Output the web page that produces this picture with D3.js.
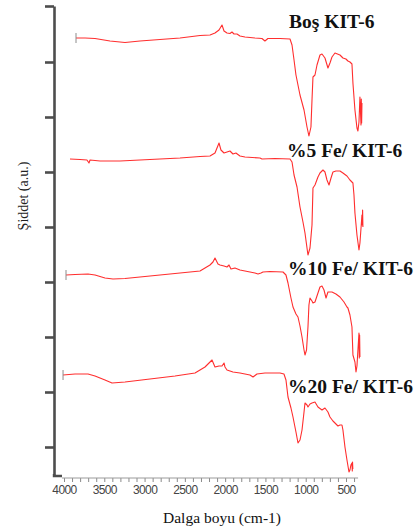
<!DOCTYPE html>
<html>
<head>
<meta charset="utf-8">
<script src="https://cdn.jsdelivr.net/npm/d3@7"></script>
<style>
  html, body { margin: 0; padding: 0; background: #fff; }
  svg { display: block; }
</style>
</head>
<body>
<svg id="chart" width="418" height="531"></svg>
<script>
// FTIR spectra of bare and Fe-loaded KIT-6: [wavenumber (cm-1), intensity (a.u.)]
const seriesNames = ["Boş KIT-6", "%5 Fe/ KIT-6", "%10 Fe/ KIT-6", "%20 Fe/ KIT-6"];

const bosKit6 = [
  [3851,437],[3739,437],[3615,436.5],[3429,434],[3243,432.5],[3057,434],[2809,435.5],[2560,437],
  [2312,439.5],[2188,440],[2126,442],[2076,445],[2039,450],[2014,444],[1977,442],[1940,441.5],
  [1915,443],[1890,441],[1853,441],[1816,439],[1754,438],[1630,437],[1543,436.5],[1506,434],
  [1469,436.5],[1319,436.5],[1195,436],[1170,430],[1145,415],[1121,400],[1071,380],[1021,365],
  [984,348],[960,339],[935,348],[922,375],[910,398],[885,400],[860,410],[823,420],[798,421],
  [761,417],[724,407],[699,412],[674,418],[637,422],[575,420],[538,417],[501,416],[476,414],
  [451,413],[426,411],[414,392],[389,365],[364,347],[352,344],[339,353],[327,378],[314,350],
  [310,376],[306,352],[302,372]
];

const fe5Kit6 = [
  [3926,316],[3801,315.5],[3715,315],[3690,312],[3677,315],[3553,314],[3305,314],[3057,315],
  [2809,316],[2560,317],[2312,318.5],[2188,319],[2126,322],[2076,332],[2052,325],[2014,322],
  [1977,323],[1940,324],[1903,321],[1866,322],[1816,319],[1754,318],[1568,317],[1543,316],
  [1381,316.5],[1195,316],[1170,313],[1145,300],[1108,288],[1071,268],[1034,253],[1009,242],
  [984,227],[972,220],[947,227],[922,250],[910,287],[885,290],[848,298],[823,302],[786,305],
  [761,303],[736,295],[711,290],[686,297],[662,303],[625,304],[575,304],[538,302],[488,299],
  [451,295],[414,292],[401,280],[389,262],[364,240],[339,225],[327,232],[302,260],[298,250],
  [294,265],[290,248]
];

const fe10Kit6 = [
  [3975,200],[3863,200.5],[3702,201],[3615,200],[3491,197],[3392,196],[3243,196.5],[2933,199],
  [2622,201.5],[2312,204],[2250,207],[2188,210],[2151,213],[2126,217],[2089,211],[2064,210],
  [2014,209],[1977,208],[1952,210],[1928,206],[1878,207],[1816,205],[1692,203],[1630,202],
  [1592,201],[1555,202],[1530,203],[1443,203.5],[1282,203],[1245,200],[1220,192],[1183,177],
  [1158,168],[1121,161],[1096,158],[1071,149],[1046,138],[1021,125],[1009,120],[990,125],
  [972,148],[960,170],[947,177],[922,174],[910,172],[885,173],[848,182],[823,188],[798,189],
  [773,185],[748,177],[724,183],[674,183],[625,181],[575,178],[525,173],[488,168],[476,167],
  [451,160],[426,148],[414,120],[389,113],[376,103],[364,109],[352,125],[339,142],[335,117],
  [331,140],[327,118]
];

const fe20Kit6 = [
  [4012,100],[3863,101],[3702,101],[3615,99],[3491,95],[3404,92],[3243,93],[2933,96],
  [2622,99],[2374,102],[2312,105],[2250,108],[2200,112],[2163,115],[2126,108],[2076,109],
  [2039,109],[2014,112],[2002,108],[1977,105],[1903,103],[1816,102],[1692,100],[1654,98],
  [1605,101],[1506,102],[1319,102],[1270,101],[1245,95],[1220,78],[1183,67],[1158,58],
  [1121,43],[1096,32],[1071,35],[1046,45],[1021,63],[1009,72],[984,70],[972,68],[947,71],
  [922,72],[885,73],[848,68],[798,65],[761,67],[724,63],[699,58],[662,54],[637,52],[600,49],
  [575,50],[550,50],[538,45],[513,28],[488,15],[463,3],[451,5],[439,10],[426,12],[422,4],
  [419,13],[415,6]
];

const allSeries = [bosKit6, fe5Kit6, fe10Kit6, fe20Kit6];
// spectra that begin with a small instrument marker
const startMarkers = [true, false, true, true];

const xTickLabels = [4000, 3500, 3000, 2500, 2000, 1500, 1000, 500];
const xMinorTicks = d3.range(4000, 399, -100);
const yTicks = [28, 83, 138, 193, 248, 303, 358, 413, 469];

const svg = d3.select("#chart");

const x = d3.scaleLinear().domain([4000, 500]).range([64, 346]);
const y = d3.scaleLinear().domain([0, 469]).range([475, 6]);

// x axis: light rule with small ticks every 100 cm-1
const xAxisY = 478;
const xAxis = d3.axisBottom(x)
  .tickValues(xMinorTicks)
  .tickSize(4)
  .tickPadding(3)
  .tickFormat(d => xTickLabels.includes(d) ? d : "");
const gx = svg.append("g").attr("transform", `translate(0,${xAxisY})`).call(xAxis);
gx.select(".domain").remove();
gx.append("line")
  .attr("x1", x(4025)).attr("x2", x(350))
  .attr("y1", 0).attr("y2", 0)
  .attr("stroke", "#9a9a9a").attr("stroke-width", 1);
gx.selectAll(".tick line").attr("stroke", "#8a8a8a").attr("stroke-width", 1);
gx.selectAll(".tick text")
  .attr("fill", "#444")
  .style("font-family", "'Liberation Sans', Arial, sans-serif")
  .style("font-size", "12px")
  .style("letter-spacing", "-0.6px");

// y axis: heavy dark rule with outward ticks, no labels
const axisX = 54;
const yAxis = d3.axisLeft(y).tickValues(yTicks).tickSize(9).tickSizeOuter(0).tickFormat("");
const gy = svg.append("g").attr("transform", `translate(${axisX},0)`).call(yAxis);
gy.select(".domain").attr("stroke", "#4d4d4d").attr("stroke-width", 2.6);
gy.selectAll(".tick line").attr("stroke", "#4d4d4d").attr("stroke-width", 2.6);
// corner joining the two axes
svg.append("path")
  .attr("d", `M${axisX},${y(0) - 1}V${y(0) + 1}H${x(4025)}`)
  .attr("fill", "none").attr("stroke", "#4d4d4d").attr("stroke-width", 2.4);

// spectra
const line = d3.line().x(d => x(d[0])).y(d => y(d[1]));
allSeries.forEach((data, i) => {
  svg.append("path")
    .datum(data)
    .attr("d", line)
    .attr("fill", "none")
    .attr("stroke", "#ff2e2e")
    .attr("stroke-width", 1.1)
    .attr("stroke-linejoin", "round");
  if (startMarkers[i]) {
    const [w, v] = data[0];
    svg.append("line")
      .attr("x1", x(w)).attr("x2", x(w))
      .attr("y1", y(v) - 5).attr("y2", y(v) + 5)
      .attr("stroke", "#8c8c8c").attr("stroke-width", 1);
  }
});

// spectrum captions
const captionPos = [[289, 28], [287, 157], [288, 275], [288, 393]];
seriesNames.forEach((name, i) => {
  svg.append("text")
    .attr("x", captionPos[i][0]).attr("y", captionPos[i][1])
    .attr("fill", "#111")
    .style("font-family", "'Liberation Serif', 'Times New Roman', serif")
    .style("font-weight", "bold")
    .style("font-size", "19.5px")
    .text(name);
});

// axis titles
svg.append("text")
  .attr("transform", "translate(28,196) rotate(-90)")
  .attr("text-anchor", "middle")
  .attr("fill", "#222")
  .style("font-family", "'Liberation Serif', 'Times New Roman', serif")
  .style("font-size", "14px")
  .text("Şiddet (a.u.)");

svg.append("text")
  .attr("x", 222).attr("y", 523)
  .attr("text-anchor", "middle")
  .attr("fill", "#111")
  .style("font-family", "'Liberation Serif', 'Times New Roman', serif")
  .style("font-size", "15.5px")
  .text("Dalga boyu (cm-1)");
</script>
</body>
</html>
